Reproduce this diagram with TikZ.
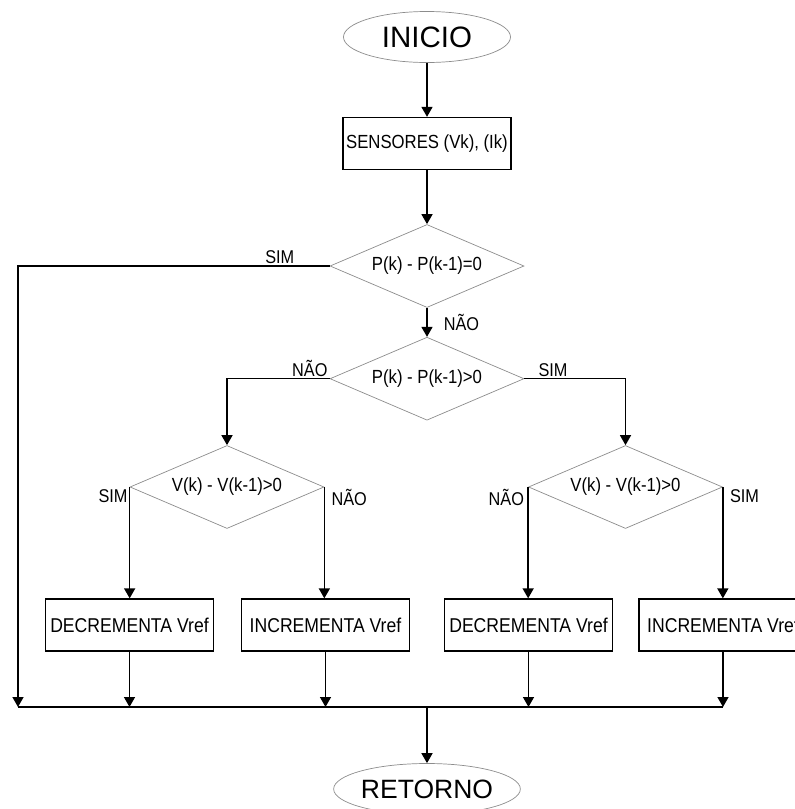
\documentclass[tikz,border=0pt]{standalone}
\usepackage{fontspec}
\setmainfont[FakeStretch=0.88]{Liberation Sans}
\newfontfamily\largofont{Liberation Sans}
\usetikzlibrary{positioning,shapes.geometric,arrows.meta}

\begin{document}
\begin{tikzpicture}
      [
        x=1pt, y=-1pt,
        >={Triangle[length=10pt,width=11pt]},
        term/.style={ellipse, draw=black!45, line width=0.7pt, minimum width=167pt, minimum height=51pt, inner sep=0pt, font=\largofont\fontsize{29.5}{31}\selectfont},
        boxb/.style={rectangle, draw=black, line width=1.3pt, minimum width=168pt, minimum height=52pt, inner sep=0pt, font=\fontsize{20}{22}\selectfont},
        decis/.style={diamond, draw=black!45, line width=0.7pt, aspect=2.3, minimum width=194pt, minimum height=83pt, inner sep=0pt, font=\fontsize{19}{21}\selectfont},
        lbl/.style={font=\fontsize{18.5}{20}\selectfont, inner sep=2pt},
        seta/.style={->, line width=1.5pt},
        linha/.style={line width=1.5pt}
      ]
      \useasboundingbox (0,0) rectangle (795,809);
      \clip (0,0) rectangle (795,809);
      \node[term] (ini) at (427,37) {INICIO};
      \node[boxb, font=\fontsize{19}{21}\selectfont] (sens) [below=54pt of ini] {SENSORES (Vk), (Ik)};
      \node[decis] (d1) [below=54pt of sens] {P(k) - P(k-1)=0};
      \node[decis] (d2) [below=29pt of d1] {P(k) - P(k-1)>0};
      \node[decis] (d3) at (227,487) {V(k) - V(k-1)>0};
      \node[decis] (d4) at (625.5,487) {V(k) - V(k-1)>0};
      \node[boxb] (b1) at (129.5,625) {DECREMENTA Vref};
      \node[boxb] (b2) at (325.5,625) {INCREMENTA Vref};
      \node[boxb] (b3) at (528.5,625) {DECREMENTA Vref};
      \node[boxb] (b4) at (723,625) {INCREMENTA Vref};
      \node[term, minimum width=165pt, font=\largofont\fontsize{26.5}{28}\selectfont] (ret) at (427,789) {RETORNO};
      \coordinate (bus) at (18,707);
      \coordinate (busr) at (723,707);
      \draw[seta] (ini) -- (sens);
      \draw[seta] (sens) -- (d1);
      \draw[seta] (d1.west) -- node[lbl, above, pos=0.16] {SIM} (bus |- d1.west) -- (bus);
      \draw[seta] (d1) -- node[lbl, right=14pt] {NÃO} (d2);
      \draw[seta] (d2.west) -| (d3.north);
      \draw[seta] (d2.east) -| (d4.north);
      \node[lbl, above left] at (d2.west) {NÃO};
      \node[lbl, above right, xshift=12pt] at (d2.east) {SIM};
      \draw[seta] (d3.west) -- (d3.west |- b1.north);
      \draw[seta] (d3.east) -- (d3.east |- b2.north);
      \draw[seta] (d4.west) -- (d4.west |- b3.north);
      \draw[seta] (d4.east) -- (d4.east |- b4.north);
      \node[lbl, below left] at (d3.west) {SIM};
      \node[lbl, below right, xshift=5pt] at (d3.east) {NÃO};
      \node[lbl, below left, xshift=-2pt] at (d4.west) {NÃO};
      \node[lbl, below right, xshift=5pt] at (d4.east) {SIM};
      \draw[seta] (b1) -- (b1 |- bus);
      \draw[seta] (b2) -- (b2 |- bus);
      \draw[seta] (b3) -- (b3 |- bus);
      \draw[seta] (b4) -- (b4 |- bus);
      \draw[linha] (bus) -- (busr);
      \draw[seta] (ret |- bus) -- (ret);
    \end{tikzpicture}
\end{document}
